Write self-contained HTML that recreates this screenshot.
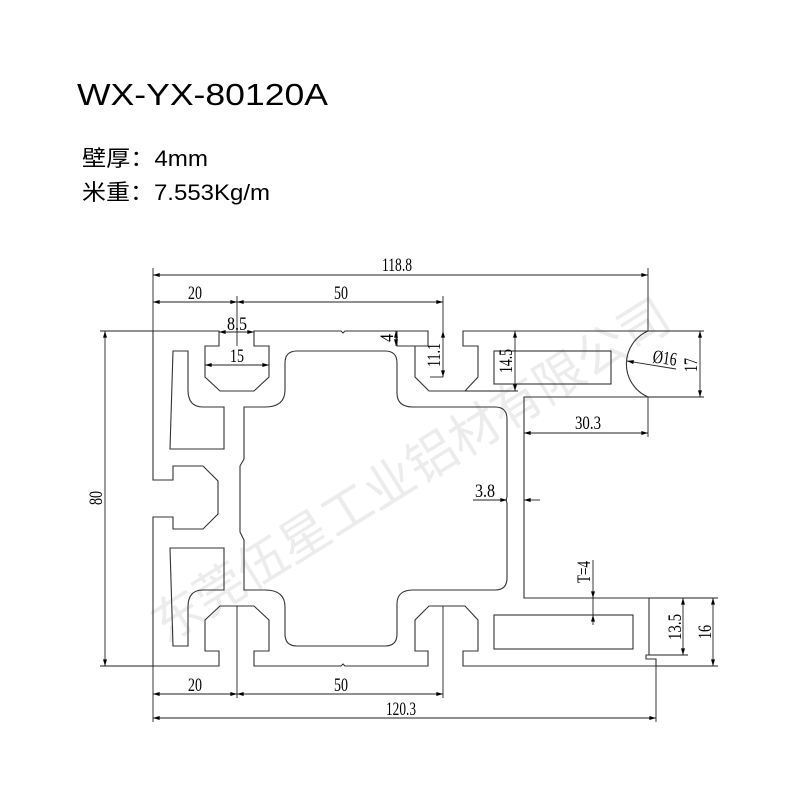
<!DOCTYPE html>
<html><head><meta charset="utf-8"><style>
html,body{margin:0;padding:0;background:#fff;width:800px;height:800px;overflow:hidden}
svg{display:block}
.d{font-family:"Liberation Serif",serif;font-size:19px;fill:#000}
</style></head><body>
<svg width="800" height="800" viewBox="0 0 800 800" xmlns="http://www.w3.org/2000/svg">
<defs>
<marker id="a" viewBox="0 0 10 6" refX="10" refY="3" markerWidth="8" markerHeight="4" orient="auto-start-reverse" markerUnits="userSpaceOnUse"><path d="M0,0L10,3L0,6Z" fill="#000"/></marker>
</defs>
<text x="420" y="485" transform="rotate(-32 420 485)" text-anchor="middle" font-family="'Noto Sans CJK SC',sans-serif" font-size="50" fill="#ececec" textLength="600" lengthAdjust="spacingAndGlyphs">东莞伍星工业铝材有限公司</text>

<text x="77" y="105" font-family="'Liberation Sans',sans-serif" font-size="31" textLength="251" lengthAdjust="spacingAndGlyphs">WX-YX-80120A</text>
<text x="82" y="166" font-family="'Liberation Sans','Noto Sans CJK SC',sans-serif" font-size="22" textLength="126" lengthAdjust="spacingAndGlyphs">壁厚：4mm</text>
<text x="82" y="200" font-family="'Liberation Sans','Noto Sans CJK SC',sans-serif" font-size="22" textLength="188" lengthAdjust="spacingAndGlyphs">米重：7.553Kg/m</text>

<g fill="none" stroke="#333" stroke-width="1.1">
<path d="M153,331 H219 V346 H205 V377 L220,391 H254 L269,377 V346 H254 V331 H341 l2,2 l2,-2 H428 V346 H415 V377 L429,391 H465 L478,377 V346 H463 V331 H648 A36,36 0 0 0 648,397 H524 V598 H649 V655 H646 V659 H656 V666 H463 V651 H478 V620 L465,606 H429 L415,620 V651 H428 V666 H345 l-2,-2 l-2,2 H254 V651 H269 V620 L254,606 H220 L205,620 V651 H219 V666 H153 V517 H173 V529 H203 L218,514 V481 L203,466 H173 V480 H153 Z"/>
<path d="M397,331 V346 H415"/>
<path d="M244,407 H265 Q285,407 285,390 V363 Q285,351 297,351 H385 Q397,351 397,363 V393 Q397,407 413,407 H495 Q507,407 507,419 V497 l-1,3 l1,3 V578 Q507,590 495,590 H413 Q397,590 397,604 V634 Q397,646 385,646 H297 Q285,646 285,634 V607 Q285,590 265,590 H244 V540 L240,532 V466 L244,459 Z"/>
<path d="M173,351 H188 V390 Q188,407 203,407 H224 V449 H170 Z"/>
<path d="M173,646 H188 V607 Q188,590 203,590 H224 V548 H170 Z"/>
<rect x="494" y="351" width="117" height="33"/>
<rect x="494" y="615" width="139" height="34"/>
</g>

<g stroke="#222" stroke-width="0.9" fill="none">
<line x1="153" y1="268" x2="153" y2="331"/><line x1="648" y1="268" x2="648" y2="331"/>
<line x1="153" y1="275" x2="648" y2="275" marker-start="url(#a)" marker-end="url(#a)"/>
<line x1="237" y1="296" x2="237" y2="346"/><line x1="443" y1="296" x2="443" y2="331"/>
<line x1="153" y1="302" x2="237" y2="302" marker-start="url(#a)" marker-end="url(#a)"/>
<line x1="237" y1="302" x2="443" y2="302" marker-start="url(#a)" marker-end="url(#a)"/>
<line x1="219" y1="332" x2="254" y2="332" marker-start="url(#a)" marker-end="url(#a)"/>
<line x1="205" y1="365" x2="269" y2="365" marker-start="url(#a)" marker-end="url(#a)"/>
<line x1="396" y1="331" x2="396" y2="346" marker-start="url(#a)" marker-end="url(#a)"/>
<line x1="443" y1="331" x2="443" y2="377" marker-start="url(#a)" marker-end="url(#a)"/>
<line x1="443" y1="377" x2="430" y2="377"/>
<line x1="515" y1="331" x2="515" y2="391" marker-start="url(#a)" marker-end="url(#a)"/>
<line x1="465" y1="391" x2="518" y2="391"/>
<line x1="676" y1="369" x2="627" y2="361" marker-end="url(#a)"/>
<line x1="648" y1="331" x2="704" y2="331"/><line x1="648" y1="397" x2="704" y2="397"/>
<line x1="700" y1="331" x2="700" y2="397" marker-start="url(#a)" marker-end="url(#a)"/>
<line x1="648" y1="397" x2="648" y2="437"/>
<line x1="524" y1="433" x2="648" y2="433" marker-start="url(#a)" marker-end="url(#a)"/>
<line x1="473" y1="500" x2="507" y2="500" marker-end="url(#a)"/>
<line x1="540" y1="500" x2="524" y2="500" marker-end="url(#a)"/>
<line x1="593" y1="560" x2="593" y2="598" marker-end="url(#a)"/>
<line x1="593" y1="615" x2="593" y2="598"/>
<line x1="593" y1="625" x2="593" y2="615" marker-end="url(#a)"/>
<line x1="649" y1="598" x2="718" y2="598"/><line x1="656" y1="666" x2="718" y2="666"/><line x1="649" y1="655" x2="688" y2="655"/>
<line x1="683" y1="598" x2="683" y2="655" marker-start="url(#a)" marker-end="url(#a)"/>
<line x1="713" y1="598" x2="713" y2="666" marker-start="url(#a)" marker-end="url(#a)"/>
<line x1="153" y1="666" x2="153" y2="722"/>
<line x1="237" y1="606" x2="237" y2="698"/><line x1="443" y1="606" x2="443" y2="698"/>
<line x1="656" y1="666" x2="656" y2="722"/>
<line x1="153" y1="694" x2="237" y2="694" marker-start="url(#a)" marker-end="url(#a)"/>
<line x1="237" y1="694" x2="443" y2="694" marker-start="url(#a)" marker-end="url(#a)"/>
<line x1="153" y1="718" x2="656" y2="718" marker-start="url(#a)" marker-end="url(#a)"/>
<line x1="100" y1="331" x2="153" y2="331"/><line x1="100" y1="666" x2="153" y2="666"/>
<line x1="105" y1="331" x2="105" y2="666" marker-start="url(#a)" marker-end="url(#a)"/>
</g>

<g class="d">
<text x="397" y="271" text-anchor="middle" textLength="30" lengthAdjust="spacingAndGlyphs">118.8</text>
<text x="195" y="299" text-anchor="middle" textLength="14" lengthAdjust="spacingAndGlyphs">20</text>
<text x="341" y="299" text-anchor="middle" textLength="14" lengthAdjust="spacingAndGlyphs">50</text>
<text x="237" y="330" text-anchor="middle" textLength="20" lengthAdjust="spacingAndGlyphs">8.5</text>
<text x="237" y="362" text-anchor="middle" textLength="14" lengthAdjust="spacingAndGlyphs">15</text>
<text transform="translate(393,338) rotate(-90)" text-anchor="middle" textLength="8" lengthAdjust="spacingAndGlyphs">4</text>
<text transform="translate(440,355) rotate(-90)" text-anchor="middle" textLength="24" lengthAdjust="spacingAndGlyphs">11.1</text>
<text transform="translate(512,361) rotate(-90)" text-anchor="middle" textLength="24" lengthAdjust="spacingAndGlyphs">14.5</text>
<text x="664" y="364" text-anchor="middle" transform="rotate(8 664 364)" textLength="24" lengthAdjust="spacingAndGlyphs">Ø16</text>
<text transform="translate(697,365) rotate(-90)" text-anchor="middle" textLength="14" lengthAdjust="spacingAndGlyphs">17</text>
<text x="588" y="429" text-anchor="middle" textLength="26" lengthAdjust="spacingAndGlyphs">30.3</text>
<text x="485" y="497" text-anchor="middle" textLength="20" lengthAdjust="spacingAndGlyphs">3.8</text>
<text transform="translate(590,572) rotate(-90)" text-anchor="middle" textLength="22" lengthAdjust="spacingAndGlyphs">T=4</text>
<text transform="translate(681,627) rotate(-90)" text-anchor="middle" textLength="26" lengthAdjust="spacingAndGlyphs">13.5</text>
<text transform="translate(711,632) rotate(-90)" text-anchor="middle" textLength="14" lengthAdjust="spacingAndGlyphs">16</text>
<text x="195" y="691" text-anchor="middle" textLength="14" lengthAdjust="spacingAndGlyphs">20</text>
<text x="341" y="691" text-anchor="middle" textLength="14" lengthAdjust="spacingAndGlyphs">50</text>
<text x="401" y="715" text-anchor="middle" textLength="30" lengthAdjust="spacingAndGlyphs">120.3</text>
<text transform="translate(102,498) rotate(-90)" text-anchor="middle" textLength="14" lengthAdjust="spacingAndGlyphs">80</text>
</g>
</svg>
</body></html>
